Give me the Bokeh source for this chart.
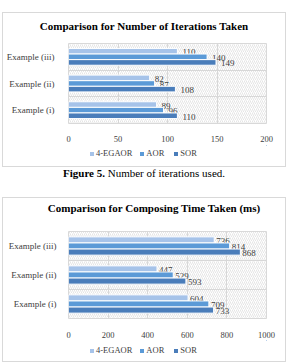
from bokeh.plotting import figure
from bokeh.models import FixedTicker, BoxAnnotation, Legend, LegendItem, Div, Range1d, ColumnDataSource
from bokeh.layouts import column
from bokeh.core.properties import value
from bokeh.embed import file_html
from bokeh.resources import INLINE

categories = ["Example (i)", "Example (ii)", "Example (iii)"]
series = ["4-EGAOR", "AOR", "SOR"]
colors = ["#A6C3E9", "#5B9AD7", "#4A7DBA"]

iter_title = "Comparison for Number of Iterations Taken"
iter_egaor = [89, 82, 110]
iter_aor = [96, 87, 140]
iter_sor = [110, 108, 149]
iter_ticks = [0, 50, 100, 150, 200]

time_title = "Comparison for Composing Time Taken (ms)"
time_egaor = [604, 447, 736]
time_aor = [709, 529, 814]
time_sor = [733, 593, 868]
time_ticks = [0, 200, 400, 600, 800, 1000]

caption_bold = "Figure 5."
caption_text = "Number of iterations used."

FONT = "'Liberation Serif', 'Times New Roman', Tinos, 'DejaVu Serif', serif"
GRID = "#d9d9d9"
TXT = "#404040"
BORDER = "1px solid #d9d9d9"


def make_title(text, height, pad_top, pad_left, top_margin):
    d = Div(text=text, width=284, height=height,
            styles={"font-family": FONT, "font-size": "11px", "font-weight": "bold",
                    "text-align": "center", "line-height": "12px", "color": "#000",
                    "width": "284px", "height": f"{height}px", "box-sizing": "border-box",
                    "padding-top": f"{pad_top}px", "padding-left": f"{pad_left}px",
                    "border-top": BORDER, "border-left": BORDER, "border-right": BORDER,
                    "white-space": "nowrap", "background": "white"})
    d.margin = (top_margin, 2, 0, 2)
    return d


def make_chart(vals, ticks, height, borders, x_std, y_std, label_dx):
    left, right, top, bottom = borders
    p = figure(width=284, height=height, output_backend="svg", toolbar_location=None,
               x_range=Range1d(ticks[0], ticks[-1]), y_range=Range1d(-0.5, len(categories) - 0.5),
               min_border_left=left, min_border_right=right, min_border_top=top,
               min_border_bottom=bottom, title=None)
    p.margin = (0, 2, 0, 2)
    p.styles = {"border-left": BORDER, "border-right": BORDER, "box-sizing": "border-box"}
    p.outline_line_color = GRID
    p.add_layout(BoxAnnotation(fill_alpha=0, line_alpha=0, hatch_pattern="/", hatch_color="#d4d4d4",
                               hatch_weight=0.6, hatch_scale=4, level="underlay"))
    pitch = 0.21
    offsets = [pitch, 0, -pitch]
    for s, v, c, off in zip(series, vals, colors, offsets):
        ys = [i + off for i in range(len(categories))]
        src = ColumnDataSource(dict(y=ys, right=v, label=[str(x) for x in v]))
        p.hbar(y="y", right="right", left=0, height=pitch, source=src, fill_color=c,
               line_color="white", line_width=1)
        p.text(x="right", y="y", text="label", source=src, x_offset=label_dx, y_offset=1,
               text_baseline="middle", text_font=value(FONT), text_font_size="9px",
               text_color=TXT)
    p.xaxis.ticker = FixedTicker(ticks=ticks)
    p.yaxis.ticker = FixedTicker(ticks=list(range(len(categories))))
    p.yaxis.major_label_overrides = {i: c for i, c in enumerate(categories)}
    for ax, std in ((p.xaxis, x_std), (p.yaxis, y_std)):
        ax.axis_line_color = None
        ax.major_tick_line_color = None
        ax.minor_tick_line_color = None
        ax.major_label_text_font = FONT
        ax.major_label_text_color = TXT
        ax.major_label_standoff = std
    p.xaxis.major_label_text_font_size = "8.5px"
    p.yaxis.major_label_text_font_size = "9px"
    p.xgrid.ticker = FixedTicker(ticks=ticks)
    p.ygrid.ticker = FixedTicker(ticks=[i + 0.5 for i in range(len(categories) - 1)])
    p.xgrid.grid_line_color = GRID
    p.ygrid.grid_line_color = GRID
    return p


def make_legend(vals, height, legend_xy):
    # legend strip: its ranges lie entirely outside the series data, so only swatches show
    lf = figure(width=284, height=height, output_backend="svg", toolbar_location=None,
                x_range=Range1d(-3, -2), y_range=Range1d(-3, -2), x_axis_type=None,
                y_axis_type=None, min_border=0, title=None)
    lf.margin = (0, 2, 0, 2)
    lf.styles = {"border-bottom": BORDER, "border-left": BORDER, "border-right": BORDER,
                 "box-sizing": "border-box"}
    lf.outline_line_color = None
    lf.grid.visible = False
    items = []
    for s, v, c in zip(series, vals, colors):
        r = lf.hbar(y=list(range(len(categories))), right=v, left=0, height=0,
                    fill_color=c, line_color=None)
        items.append(LegendItem(label=s, renderers=[r]))
    leg = Legend(items=items, orientation="horizontal", location=legend_xy,
                 label_text_font=FONT, label_text_font_size="8.5px", label_text_color=TXT,
                 glyph_width=5, glyph_height=5, label_standoff=2, spacing=7,
                 border_line_color=None, background_fill_alpha=0, padding=0, margin=0,
                 label_height=10)
    lf.add_layout(leg)
    return lf


t1 = make_title(iter_title, 20, 7, 0, 12)
p1 = make_chart([iter_egaor, iter_aor, iter_sor], iter_ticks, 113, (61, 19, 11, 22), 6, 8, 5)
l1 = make_legend([iter_egaor, iter_aor, iter_sor], 22, (21, 9))

cap = Div(text=f'<b>{caption_bold}</b> {caption_text}', width=288, height=30,
          styles={"font-family": FONT, "font-size": "11px", "text-align": "center",
                  "line-height": "12px", "width": "288px", "color": "#000"})
cap.margin = (0, 0, 0, 0)

t2 = make_title(time_title, 20, 4, 20, 0)
p2 = make_chart([time_egaor, time_aor, time_sor], time_ticks, 123, (59, 21, 14, 20), 7, 6, 2)
l2 = make_legend([time_egaor, time_aor, time_sor], 22, (21, 7))

layout = column(t1, p1, l1, cap, t2, p2, l2)
layout.margin = (0, 0, 0, 0)

open("out.html", "w").write(file_html(layout, INLINE))
